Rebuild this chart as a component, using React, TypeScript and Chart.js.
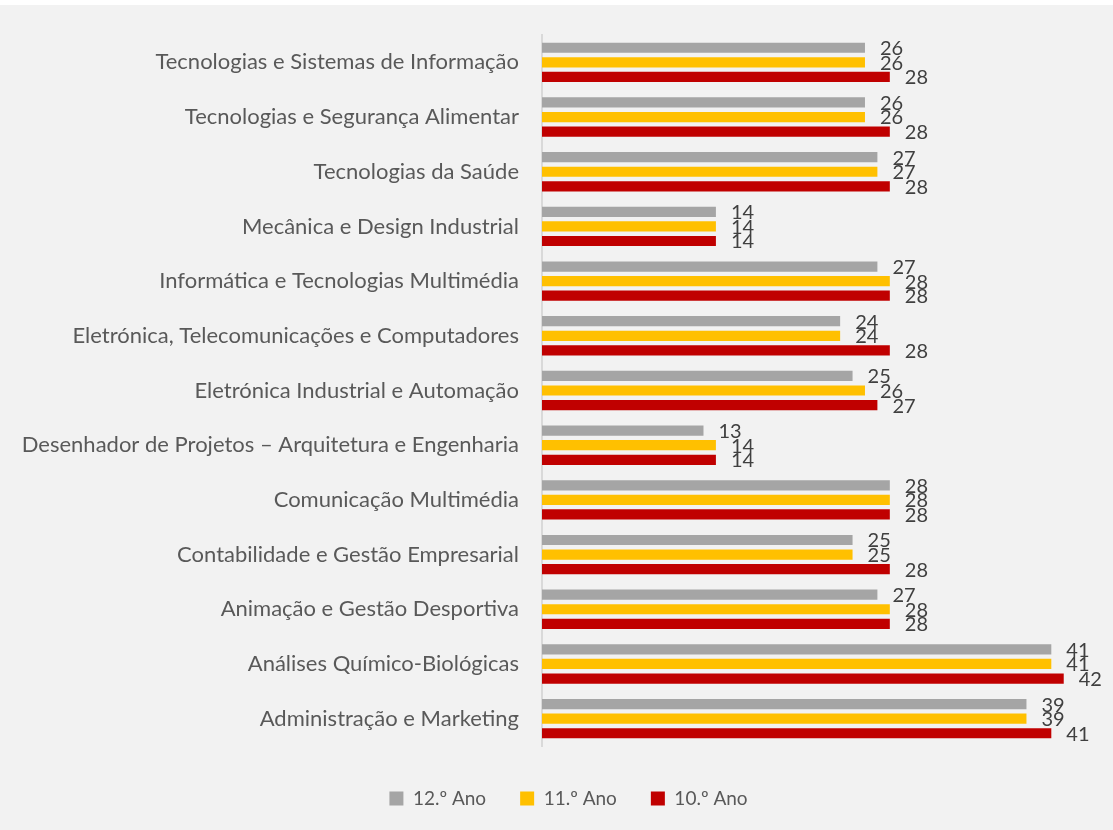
import React, { useEffect, useRef } from "react";
import { Chart, registerables } from "chart.js";

Chart.register(...registerables);

const categories = [
  "Tecnologias e Sistemas de Informação",
  "Tecnologias e Segurança Alimentar",
  "Tecnologias da Saúde",
  "Mecânica e Design Industrial",
  "Informática e Tecnologias Multimédia",
  "Eletrónica, Telecomunicações e Computadores",
  "Eletrónica Industrial e Automação",
  "Desenhador de Projetos – Arquitetura e Engenharia",
  "Comunicação Multimédia",
  "Contabilidade e Gestão Empresarial",
  "Animação e Gestão Desportiva",
  "Análises Químico-Biológicas",
  "Administração e Marketing",
];

const ano12 = [26, 26, 27, 14, 27, 24, 25, 13, 28, 25, 27, 41, 39];
const ano11 = [26, 26, 27, 14, 28, 24, 26, 14, 28, 25, 28, 41, 39];
const ano10 = [28, 28, 28, 14, 28, 28, 27, 14, 28, 28, 28, 42, 41];

const seriesNames = ["12.º Ano", "11.º Ano", "10.º Ano"];
const seriesColors = ["#a5a5a5", "#ffc000", "#c00000"];

const FONT = "Lato, 'Open Sans', sans-serif";

const valueLabels = {
  id: "valueLabels",
  afterDatasetsDraw(chart: any) {
    const ctx = chart.ctx;
    ctx.save();
    ctx.font = `20px ${FONT}`;
    ctx.fillStyle = "#404040";
    ctx.textAlign = "left";
    ctx.textBaseline = "middle";
    chart.data.datasets.forEach((ds: any, i: number) => {
      const meta = chart.getDatasetMeta(i);
      meta.data.forEach((bar: any, j: number) => {
        ctx.fillText(String(ds.data[j]), bar.x + 15, bar.y + 1);
      });
    });
    ctx.restore();
  },
};

const legendShift = {
  id: "legendShift",
  afterLayout(chart: any) {
    if (chart.legend) {
      chart.legend.left += 18;
      chart.legend.right += 18;
    }
  },
};

export default function App() {
  const ref = useRef<HTMLCanvasElement>(null);
  useEffect(() => {
    document.body.style.margin = "0";
    const chart = new Chart(ref.current!, {
      type: "bar",
      data: {
        labels: categories,
        datasets: [ano12, ano11, ano10].map((d, i) => ({
          label: seriesNames[i],
          data: d,
          backgroundColor: seriesColors[i],
          borderColor: seriesColors[i],
          borderWidth: 0,
          barPercentage: 0.7,
          categoryPercentage: 0.8,
        })),
      },
      options: {
        indexAxis: "y",
        animation: false,
        responsive: false,
        layout: { padding: { top: 30, right: 12, bottom: 12, left: 0 } },
        scales: {
          x: {
            display: true,
            min: 0,
            max: 45,
            grid: { display: false, drawTicks: false },
            border: { display: false },
            ticks: { display: false },
            afterFit(scale: any) {
              scale.height = 9;
            },
          },
          y: {
            grid: { display: false, drawTicks: false },
            border: { display: true, color: "#d9d9d9", width: 2 },
            ticks: {
              color: "#595959",
              font: { family: FONT, size: 22 },
              padding: 23,
            },
            afterFit(scale: any) {
              scale.width = 542;
              scale.paddingTop = 0;
              scale.paddingBottom = 0;
            },
          },
        },
        plugins: {
          legend: {
            position: "bottom",
            labels: {
              color: "#595959",
              font: { family: FONT, size: 19 },
              boxWidth: 14,
              boxHeight: 14,
              padding: 34,
            },
          },
          tooltip: { enabled: false },
        },
      },
      plugins: [valueLabels, legendShift],
    });
    return () => chart.destroy();
  }, []);
  return (
    <div style={{ marginTop: 5, background: "#f2f2f2", width: 1113, height: 825 }}>
      <canvas ref={ref} width={1113} height={825} style={{ display: "block" }} />
    </div>
  );
}
